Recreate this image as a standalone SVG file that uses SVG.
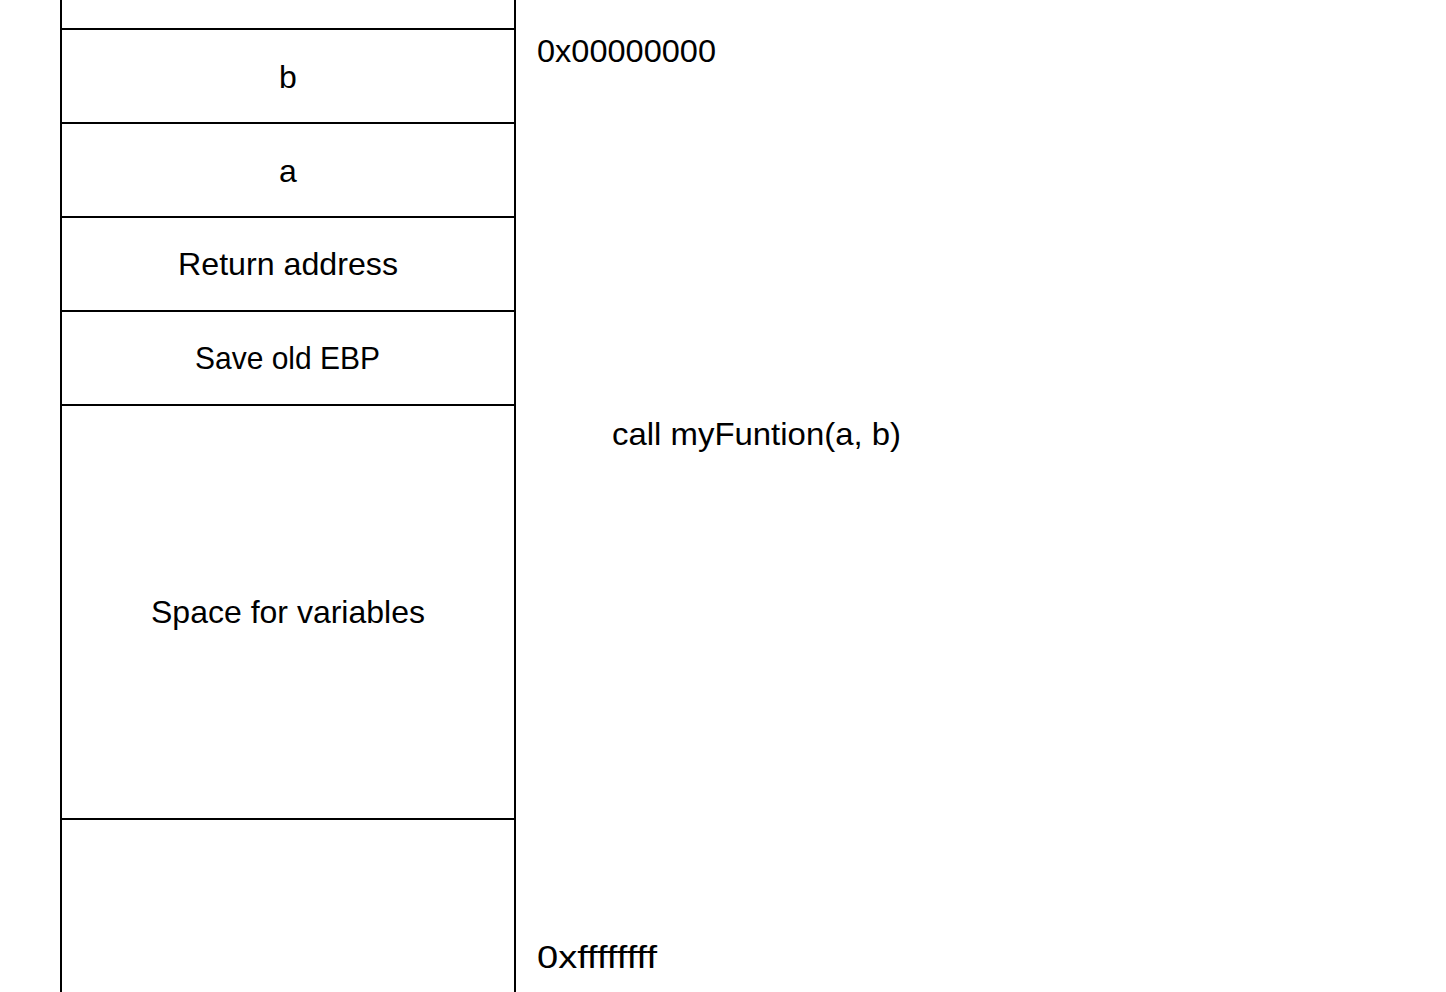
<svg xmlns="http://www.w3.org/2000/svg" width="1446" height="992" viewBox="0 0 1446 992">
<style>
.ln{stroke:#000;stroke-width:2;fill:none}
.t{font-family:"Liberation Sans",Arial,sans-serif;font-size:32px;fill:#000}
.c{text-anchor:middle}
</style>
<rect width="1446" height="992" fill="#fff"/>
<g id="stack">
<line class="ln" x1="61" y1="0" x2="61" y2="992"/>
<line class="ln" x1="515" y1="0" x2="515" y2="992"/>
<line class="ln" x1="60" y1="29" x2="516" y2="29"/>
<line class="ln" x1="60" y1="123" x2="516" y2="123"/>
<line class="ln" x1="60" y1="217" x2="516" y2="217"/>
<line class="ln" x1="60" y1="311" x2="516" y2="311"/>
<line class="ln" x1="60" y1="405" x2="516" y2="405"/>
<line class="ln" x1="60" y1="819" x2="516" y2="819"/>
</g>
<g id="cell-b"><text class="t c" x="288" y="88">b</text></g>
<g id="cell-a"><text class="t c" x="288" y="182">a</text></g>
<g id="cell-ret"><text class="t" x="178" y="275" textLength="220" lengthAdjust="spacingAndGlyphs">Return address</text></g>
<g id="cell-ebp"><text class="t" x="195" y="369" textLength="185" lengthAdjust="spacingAndGlyphs">Save old EBP</text></g>
<g id="cell-vars"><text class="t" x="151" y="623" textLength="274" lengthAdjust="spacingAndGlyphs">Space for variables</text></g>
<g id="labels">
<text class="t" x="537" y="62" textLength="179" lengthAdjust="spacingAndGlyphs">0x00000000</text>
<text class="t" x="612" y="445" textLength="289" lengthAdjust="spacingAndGlyphs">call myFuntion(a, b)</text>
<text class="t" x="537" y="968" textLength="120" lengthAdjust="spacingAndGlyphs">0xffffffff</text>
</g>
</svg>
